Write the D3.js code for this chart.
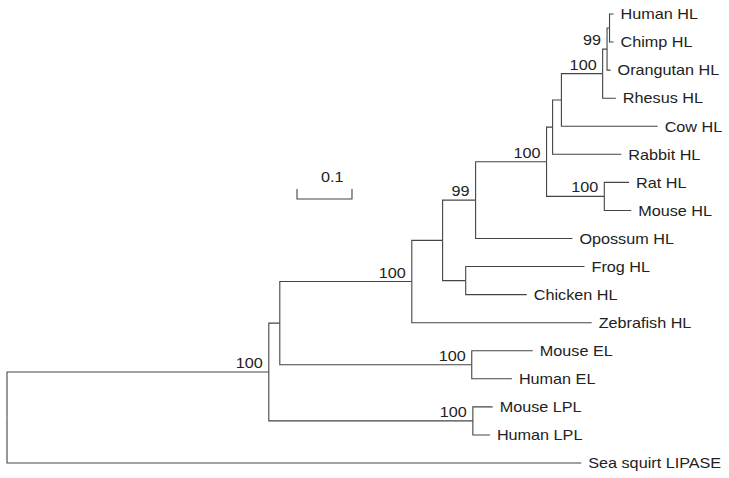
<!DOCTYPE html>
<html>
<head>
<meta charset="utf-8">
<script src="https://cdn.jsdelivr.net/npm/d3@7"></script>
<style>
  body { margin: 0; background: #fff; }
  text { font-family: "Liberation Sans", Arial, sans-serif; font-size: 15px; fill: #222; }
</style>
</head>
<body>
<svg></svg>
<script>
const width = 729;
const height = 478;

// tree: node ids, parent ids, branch lengths (substitutions/site), bootstrap support
const ids = ["root", "A", "Sea squirt LIPASE", "B", "LPL", "Mouse LPL", "Human LPL",
  "C", "EL", "Mouse EL", "Human EL", "D", "Zebrafish HL", "E", "FC", "Frog HL", "Chicken HL",
  "F", "Opossum HL", "G", "RM", "Rat HL", "Mouse HL", "H", "Rabbit HL", "I", "Cow HL",
  "J", "Rhesus HL", "HC", "Orangutan HL", "Human HL", "Chimp HL"];
const parents = ["", "root", "root", "A", "A", "LPL", "LPL",
  "B", "B", "EL", "EL", "C", "C", "D", "D", "FC", "FC",
  "E", "E", "F", "F", "RM", "RM", "G", "G", "H", "H",
  "I", "I", "J", "J", "HC", "HC"];
const branchLen = [0, 0.476, 1.044, 0.020, 0.371, 0.036, 0.031,
  0.240, 0.349, 0.111, 0.073, 0.056, 0.327, 0.060, 0.042, 0.216, 0.111,
  0.129, 0.176, 0.011, 0.105, 0.045, 0.049, 0.016, 0.125, 0.075, 0.175,
  0.008, 0.024, 0.0045, 0.0064, 0.0073, 0.0073];
const support = [null, 100, null, null, 100, null, null,
  100, 100, null, null, null, null, 99, null, null, null,
  100, null, null, 100, null, null, null, null, 100, null,
  99, null, null, null, null, null];

const scaleBarValue = 0.1;

const svg = d3.select("svg").attr("width", width).attr("height", height);

const table = ids.map((id, i) => ({id: id, parent: parents[i], len: branchLen[i], support: support[i]}));
const root = d3.stratify().id(d => d.id).parentId(d => d.parent || null)(table);

root.eachBefore(n => { n.dist = n.parent ? n.parent.dist + n.data.len : 0; });

const leafNames = root.leaves().map(l => l.id);
const xScale = d3.scaleLinear().domain([0, 1]).range([7, 557]);
const yScale = d3.scalePoint().domain(leafNames).range([14, 463]);

root.eachAfter(n => {
  if (n.children) {
    n.y = (n.children[0].y + n.children[n.children.length - 1].y) / 2;
  } else {
    n.y = yScale(n.id);
  }
  n.x = xScale(n.dist);
});

// branches
svg.append("g")
  .selectAll("path")
  .data(root.links())
  .enter()
  .append("path")
  .attr("d", l => `M${l.source.x},${l.source.y}V${l.target.y}H${l.target.x}`)
  .attr("fill", "none")
  .attr("stroke", "#444")
  .attr("stroke-width", 1.1);

// taxon names
svg.append("g")
  .selectAll("text")
  .data(root.leaves())
  .enter()
  .append("text")
  .attr("transform", d => `translate(${d.x + 7},${d.y}) scale(1.08,1)`)
  .attr("dy", "0.35em")
  .text(d => d.id);

// bootstrap values
svg.append("g")
  .selectAll("text")
  .data(root.descendants().filter(d => d.data.support != null))
  .enter()
  .append("text")
  .attr("transform", d => `translate(${d.x - 6},${d.y - 4}) scale(1.08,1)`)
  .attr("text-anchor", "end")
  .text(d => d.data.support);

// scale bar
const barLen = xScale(scaleBarValue) - xScale(0);
const bar = svg.append("g").attr("transform", "translate(297,199)");
bar.append("path")
  .attr("d", `M0,-10V0H${barLen}V-10`)
  .attr("fill", "none")
  .attr("stroke", "#444")
  .attr("stroke-width", 1.1);
bar.append("text")
  .attr("transform", "translate(24,-17) scale(1.08,1)")
  .text(scaleBarValue);
</script>
</body>
</html>
